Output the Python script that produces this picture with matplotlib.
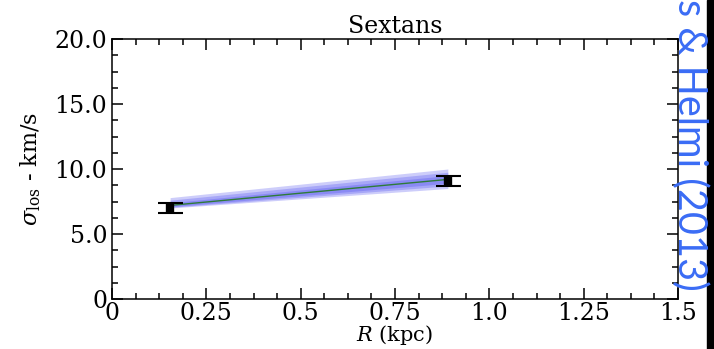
import numpy as np
import matplotlib
matplotlib.use('Agg')
import matplotlib.pyplot as plt
from matplotlib.ticker import MultipleLocator, FixedLocator, FixedFormatter
from matplotlib.patches import Rectangle

# data
R_obs = [0.154, 0.89]
sig_obs = [7.0, 9.1]
sig_err = [0.4, 0.4]

# model line and its spread (blue bands)
R_mod = [0.154, 0.89]
sig_mod = [7.2, 9.2]
band_hi = [[7.8, 10.0], [7.6, 9.75], [7.4, 9.5]]
band_lo = [[7.0, 8.5], [7.05, 8.7], [7.1, 8.9]]

xticks = [0, 0.25, 0.5, 0.75, 1.0, 1.25, 1.5]
xlabels = ['0', '0.25', '0.5', '0.75', '1.0', '1.25', '1.5']
yticks = [0, 5, 10, 15, 20]
ylabels = ['0', '5.0', '10.0', '15.0', '20.0']

plt.rcParams['font.family'] = 'DejaVu Serif'
plt.rcParams['mathtext.fontset'] = 'dejavuserif'

fig = plt.figure(figsize=(7.14, 3.49), dpi=100)
ax = fig.add_axes([112/714, 1-299/349, 566/714, 260/349])

for hi, lo in zip(band_hi, band_lo):
    ax.fill_between(R_mod, lo, hi, color='#3030ee', alpha=0.24, lw=0)
ax.plot(R_mod, sig_mod, color='#2e7a3a', lw=1.0)

ax.errorbar(R_obs, sig_obs, yerr=sig_err, fmt='none', ecolor='black',
            elinewidth=6, capsize=9, capthick=1.5)

ax.set_xlim(0, 1.5)
ax.set_ylim(0, 20)
ax.xaxis.set_major_locator(FixedLocator(xticks))
ax.xaxis.set_major_formatter(FixedFormatter(xlabels))
ax.yaxis.set_major_locator(FixedLocator(yticks))
ax.yaxis.set_major_formatter(FixedFormatter(ylabels))
ax.xaxis.set_minor_locator(MultipleLocator(0.0625))
ax.yaxis.set_minor_locator(MultipleLocator(1.25))
ax.tick_params(which='both', direction='in', top=True, right=True,
               width=1.1, labelsize=17)
ax.tick_params(which='major', length=8)
ax.tick_params(which='minor', length=4)
ax.tick_params(axis='x', pad=2)
for s in ax.spines.values():
    s.set_linewidth(1.1)

ax.set_title('Sextans', fontsize=17, pad=4)
ax.set_xlabel(r'$R$ (kpc)', fontsize=15, labelpad=-1)
ax.set_ylabel(r'$\sigma_{\rm los}$ - km/s', fontsize=16, labelpad=8)

fig.patches.append(Rectangle((707/714, 0), 7/714, 1, transform=fig.transFigure,
                             color='black', zorder=0))
# label only partly visible in the original, cut by the right edge
fig.text(690/714, 1-291/349, 's & Helmi (2013)', rotation=-90,
         ha='center', va='bottom', fontsize=28.5, color='#3a6cf5',
         family='Lato')

fig.savefig('out.png', dpi=100)
